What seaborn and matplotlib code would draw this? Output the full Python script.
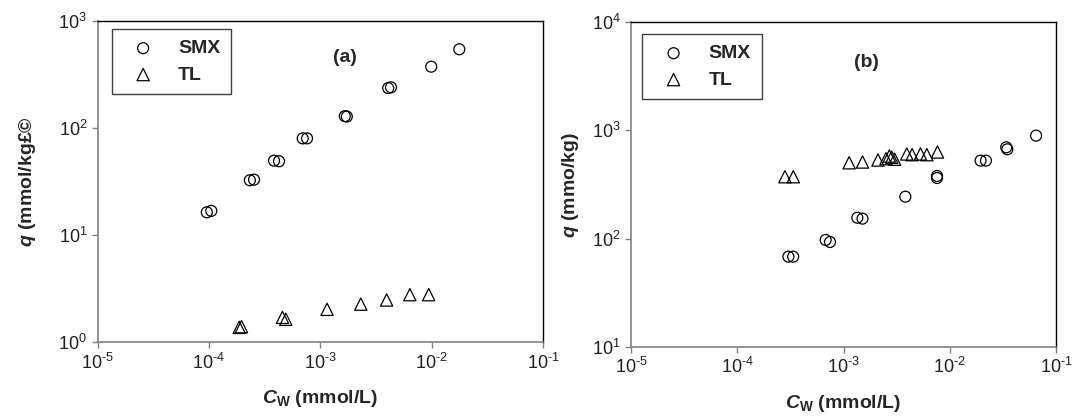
import seaborn as sns
import matplotlib.pyplot as plt
from matplotlib.ticker import NullLocator

# panel (a)
smx_a_cw = [9.57e-5, 1.05e-4, 2.33e-4, 2.54e-4, 3.84e-4, 4.26e-4, 6.95e-4, 7.6e-4,
            1.66e-3, 1.73e-3, 4.07e-3, 4.31e-3, 9.9e-3, 1.77e-2]
smx_a_q = [16.3, 16.8, 32.5, 32.9, 49.5, 48.9, 80, 80, 129, 128, 236, 240, 374, 544]
tl_a_cw = [1.87e-4, 1.96e-4, 4.57e-4, 4.9e-4, 1.15e-3, 2.31e-3, 3.94e-3, 6.37e-3, 9.4e-3]
tl_a_q = [1.37, 1.39, 1.70, 1.63, 2.02, 2.26, 2.47, 2.77, 2.77]

# panel (b)
smx_b_cw = [3.03e-4, 3.36e-4, 6.79e-4, 7.46e-4, 1.35e-3, 1.51e-3, 3.82e-3, 7.59e-3,
            7.59e-3, 1.95e-2, 2.19e-2, 3.40e-2, 3.48e-2, 6.49e-2]
smx_b_q = [68.2, 68.2, 97.3, 93.1, 156, 153, 244, 379, 363, 525, 525, 697, 668, 893]
tl_b_cw = [2.81e-4, 3.37e-4, 1.13e-3, 1.51e-3, 2.11e-3, 2.51e-3, 2.70e-3, 2.84e-3,
           3.03e-3, 3.94e-3, 4.42e-3, 5.30e-3, 6.08e-3, 7.66e-3]
tl_b_q = [373, 373, 502, 510, 532, 547, 579, 564, 541, 605, 596, 605, 596, 631]

# decade exponents used for the tick labels
x_exps = [-5, -4, -3, -2, -1]
ya_exps = [0, 1, 2, 3]
yb_exps = [1, 2, 3, 4]

sns.set_style('white')
plt.rcParams['font.family'] = ['Liberation Sans', 'DejaVu Sans']
plt.rcParams['axes.unicode_minus'] = False
plt.rcParams['mathtext.fontset'] = 'custom'
plt.rcParams['mathtext.rm'] = 'Liberation Sans'
plt.rcParams['mathtext.it'] = 'Liberation Sans:italic:bold'
plt.rcParams['mathtext.bf'] = 'Liberation Sans:bold'

fig = plt.figure(figsize=(10.72, 4.18), dpi=100)
ax_a = fig.add_axes([0.0910, 0.1818, 0.4156, 0.768])
ax_b = fig.add_axes([0.5886, 0.1699, 0.3965, 0.7775])


def decade_labels(exps):
    labels = []
    for e in exps:
        sign = r'\text{-}' if e < 0 else ''
        labels.append(r'$\mathdefault{10^{%s%d}}$' % (sign, abs(e)))
    return labels


def draw_panel(ax, smx_x, smx_y, tl_x, tl_y, y_exps, ylabel, tag, leg_anchor, tag_pos, ylabelpad):
    sns.scatterplot(x=smx_x, y=smx_y, ax=ax, marker='o', s=62, label='SMX',
                    facecolor='none', edgecolor='black', linewidth=0.9)
    sns.scatterplot(x=tl_x, y=tl_y, ax=ax, marker='^', s=78, label='TL',
                    facecolor='none', edgecolor='black', linewidth=0.9)
    for coll in ax.collections:
        coll.set_facecolor('none')
        coll.set_edgecolor('black')

    ax.set_xscale('log')
    ax.set_yscale('log')
    ax.set_xlim(10.0 ** x_exps[0], 10.0 ** x_exps[-1])
    ax.set_ylim(10.0 ** y_exps[0], 10.0 ** y_exps[-1])
    ax.set_xticks([10.0 ** e for e in x_exps])
    ax.set_xticklabels(decade_labels(x_exps))
    ax.set_yticks([10.0 ** e for e in y_exps])
    ax.set_yticklabels(decade_labels(y_exps))
    ax.xaxis.set_minor_locator(NullLocator())
    ax.yaxis.set_minor_locator(NullLocator())
    ax.tick_params(axis='both', direction='out', length=4, width=1, color='#808080',
                   labelsize=13, pad=3.5, bottom=True, left=True, labelcolor='#202020')

    for side in ['left', 'bottom']:
        ax.spines[side].set_color('#808080')
        ax.spines[side].set_linewidth(1.2)
    for side in ['top', 'right']:
        ax.spines[side].set_color('black')
        ax.spines[side].set_linewidth(1.0)

    ax.set_xlabel(r'$\mathit{C}_{\mathbf{W}}$ (mmol/L)', fontsize=14, fontweight='bold', labelpad=11)
    ax.set_ylabel(ylabel, fontsize=14, fontweight='bold', labelpad=ylabelpad)
    ax.text(tag_pos[0], tag_pos[1], tag, transform=ax.transAxes, fontsize=14,
            fontweight='bold', ha='center', va='center')

    leg = ax.legend(loc='upper left', bbox_to_anchor=leg_anchor, borderaxespad=0,
                    frameon=True, fancybox=False, framealpha=1, handletextpad=0.75,
                    borderpad=0.55, labelspacing=0.45, handlelength=2.1,
                    prop={'size': 14, 'weight': 'bold'})
    leg.get_frame().set_edgecolor('#404040')
    leg.get_frame().set_linewidth(1.0)


draw_panel(ax_a, smx_a_cw, smx_a_q, tl_a_cw, tl_a_q, ya_exps,
           r'$\mathit{q}$ (mmol/kg£©', '(a)', (0.0325, 0.975), (0.556, 0.885), 15)
draw_panel(ax_b, smx_b_cw, smx_b_q, tl_b_cw, tl_b_q, yb_exps,
           r'$\mathit{q}$ (mmo/kg)', '(b)', (0.027, 0.963), (0.553, 0.874), 8)

fig.savefig('out.png', dpi=100)
